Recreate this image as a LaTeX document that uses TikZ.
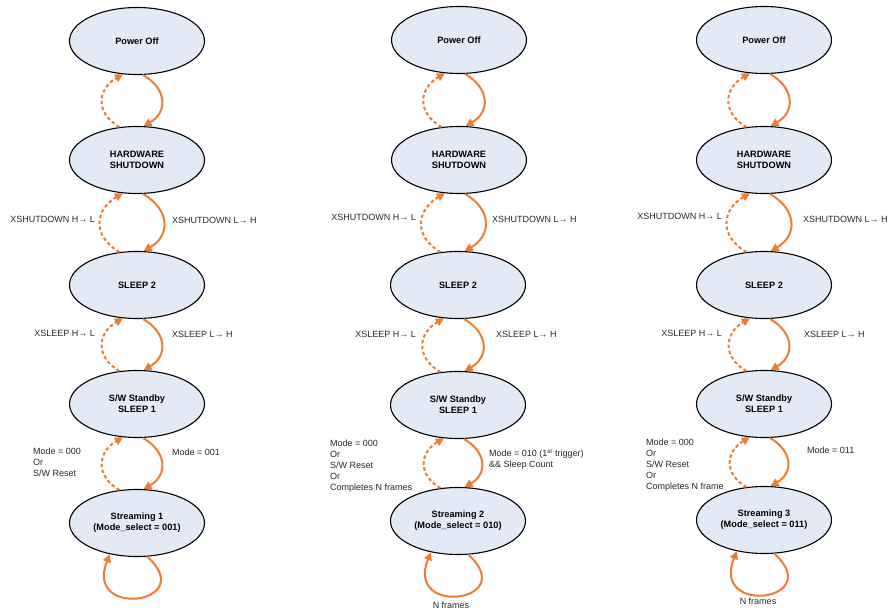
\documentclass[tikz,border=0pt]{standalone}
\usepackage{fontspec}
\setmainfont{Liberation Sans}
\usetikzlibrary{shapes.geometric,arrows.meta}
\definecolor{arcorange}{RGB}{237,125,49}
\definecolor{statefill}{RGB}{228,234,245}
\definecolor{lblgray}{RGB}{40,40,40}
\begin{document}
\begin{tikzpicture}[x=1pt,y=1pt,
  state/.style={draw=black,line width=1.1pt,ellipse,fill=statefill,minimum width=135pt,minimum height=67pt,
    inner sep=0pt,align=center,font=\fontsize{9.2}{11}\selectfont\bfseries},
  lbl/.style={font=\fontsize{9}{11}\selectfont,text=lblgray,inner sep=0pt,align=left},
  goarc/.style={draw=arcorange,line width=2pt,-{Triangle[length=8pt,width=8pt]}},
  backarc/.style={goarc,dash pattern=on 3.5pt off 2.5pt}]
\useasboundingbox (0,0) rectangle (889,-612);
% column 1
\node[state] (po1) at (137,-41) {Power Off};
\node[state] (hw1) at (137,-160) {HARDWARE\\SHUTDOWN};
\node[state] (sa1) at (137,-285) {SLEEP 2};
\node[state] (sb1) at (137,-404) {S/W Standby\\SLEEP 1};
\node[state] (st1) at (137,-523) {Streaming 1\\(Mode\_select = 001)};
% column 2
\node[state] (po2) at (459,-40) {Power Off};
\node[state] (hw2) at (459,-160) {HARDWARE\\SHUTDOWN};
\node[state] (sa2) at (458,-285) {SLEEP 2};
\node[state] (sb2) at (458,-405) {S/W Standby\\SLEEP 1};
\node[state] (st2) at (458,-521) {Streaming 2\\(Mode\_select = 010)};
% column 3
\node[state] (po3) at (764,-40) {Power Off};
\node[state] (hw3) at (764,-160) {HARDWARE\\SHUTDOWN};
\node[state] (sa3) at (764,-285) {SLEEP 2};
\node[state] (sb3) at (764,-404) {S/W Standby\\SLEEP 1};
\node[state] (st3) at (764,-520) {Streaming 3\\(Mode\_select = 011)};
% transitions
\foreach \c in {1,2,3}{
  \foreach \up/\dn in {po/hw,hw/sa,sa/sb,sb/st}{
    \draw[backarc] (\dn\c.118) to[out=150,in=210,looseness=1.4] (\up\c.247);
    \draw[goarc] (\up\c.280) to[out=-30,in=30,looseness=1.4] (\dn\c.79);
  }
  \draw[goarc] (st\c.287) to[out=-42,in=248,looseness=4.8] (st\c.229);
}
% labels
\node[lbl,anchor=east] (xs1a) at (95,-219) {XSHUTDOWN H→ L};
\node[lbl,anchor=west] (xs1b) at (172,-220) {XSHUTDOWN L→ H};
\node[lbl,anchor=east] (xl1a) at (95,-333) {XSLEEP H→ L};
\node[lbl,anchor=west] (xl1b) at (172,-334) {XSLEEP L→ H};
\node[lbl,anchor=north west] (md1a) at (33,-447.5) {Mode = 000\\Or\\S/W Reset};
\node[lbl,anchor=west] (md1b) at (172,-452) {Mode = 001};
\node[lbl,anchor=east] (xs2a) at (416,-217) {XSHUTDOWN H→ L};
\node[lbl,anchor=west] (xs2b) at (492,-219) {XSHUTDOWN L→ H};
\node[lbl,anchor=east] (xl2a) at (416,-334) {XSLEEP H→ L};
\node[lbl,anchor=west] (xl2b) at (496,-334) {XSLEEP L→ H};
\node[lbl,anchor=north west] (md2a) at (330,-440) {Mode = 000\\Or\\S/W Reset\\Or\\Completes N frames};
\node[lbl,anchor=north west] (md2b) at (489,-449) {Mode = 010 (1\textsuperscript{st} trigger)\\\&\& Sleep Count};
\node[lbl] (nf2) at (451,-605) {N frames};
\node[lbl,anchor=east] (xs3a) at (722,-216) {XSHUTDOWN H→ L};
\node[lbl,anchor=west] (xs3b) at (803,-219) {XSHUTDOWN L→ H};
\node[lbl,anchor=east] (xl3a) at (722,-333) {XSLEEP H→ L};
\node[lbl,anchor=west] (xl3b) at (804,-334) {XSLEEP L→ H};
\node[lbl,anchor=north west] (md3a) at (646,-438.5) {Mode = 000\\Or\\S/W Reset\\Or\\Completes N frame};
\node[lbl,anchor=west] (md3b) at (807,-450) {Mode = 011};
\node[lbl] (nf3) at (758,-601) {N frames};
\end{tikzpicture}
\end{document}
